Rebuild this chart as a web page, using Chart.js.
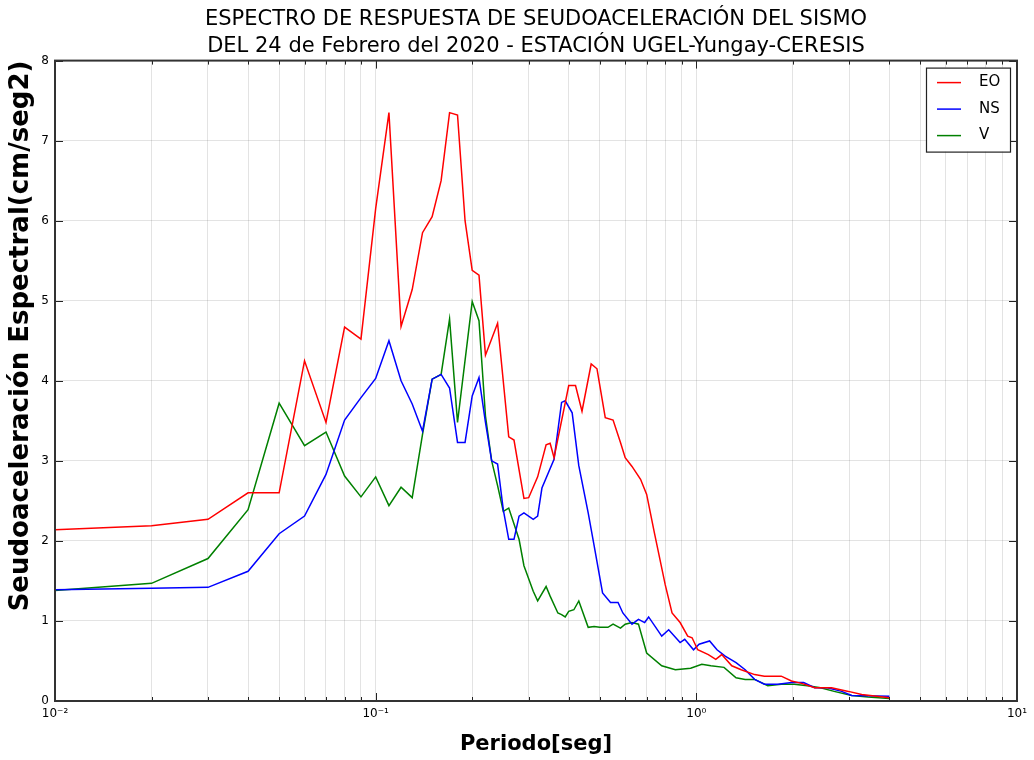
<!DOCTYPE html>
<html>
<head>
<meta charset="utf-8">
<script src="https://cdn.jsdelivr.net/npm/chart.js@4.4.1/dist/chart.umd.min.js"></script>
<style>
  html, body { margin: 0; padding: 0; background: #fff; }
</style>
</head>
<body>
<canvas id="spectrumChart" width="1034" height="760"></canvas>
<script>
// Periodo [seg] / Seudoaceleración [cm/seg2]
const eoPeriod = [0.01, 0.02, 0.03, 0.04, 0.05, 0.06, 0.07, 0.08, 0.09, 0.10, 0.11, 0.12, 0.13, 0.14, 0.15, 0.16, 0.17, 0.18, 0.19, 0.20,
  0.21, 0.22, 0.24, 0.26, 0.27, 0.29, 0.30, 0.32, 0.34, 0.35, 0.36, 0.40, 0.42, 0.44, 0.47, 0.49, 0.52, 0.55, 0.58, 0.60,
  0.63, 0.67, 0.70, 0.74, 0.80, 0.84, 0.89, 0.94, 0.97, 1.01, 1.09, 1.15, 1.20, 1.29, 1.38, 1.52, 1.63, 1.84, 1.98, 2.13,
  2.34, 2.64, 2.98, 3.28, 4.0];
const eoAccel = [2.14, 2.19, 2.27, 2.60, 2.60, 4.25, 3.48, 4.67, 4.52, 6.15, 7.35, 4.68, 5.14, 5.85, 6.05, 6.50, 7.35, 7.32, 6.00, 5.38,
  5.32, 4.32, 4.72, 3.30, 3.26, 2.53, 2.54, 2.80, 3.20, 3.22, 3.04, 3.94, 3.94, 3.62, 4.21, 4.15, 3.54, 3.51, 3.23, 3.04,
  2.93, 2.77, 2.58, 2.10, 1.45, 1.10, 0.98, 0.81, 0.79, 0.64, 0.58, 0.52, 0.58, 0.44, 0.39, 0.33, 0.31, 0.31, 0.25, 0.22,
  0.165, 0.165, 0.12, 0.08, 0.04];

const nsPeriod = [0.01, 0.02, 0.03, 0.04, 0.05, 0.06, 0.07, 0.08, 0.09, 0.10, 0.11, 0.12, 0.13, 0.14, 0.15, 0.16, 0.17, 0.18, 0.19, 0.20,
  0.21, 0.22, 0.23, 0.24, 0.25, 0.26, 0.27, 0.28, 0.29, 0.31, 0.32, 0.33, 0.36, 0.38, 0.39, 0.41, 0.43, 0.46, 0.48, 0.51,
  0.54, 0.57, 0.59, 0.63, 0.66, 0.69, 0.71, 0.78, 0.82, 0.89, 0.92, 0.98, 1.02, 1.10, 1.16, 1.23, 1.33, 1.42, 1.52, 1.63,
  1.80, 1.98, 2.16, 2.34, 2.56, 2.84, 3.05, 4.0];
const nsAccel = [1.39, 1.41, 1.42, 1.62, 2.09, 2.31, 2.83, 3.51, 3.79, 4.03, 4.50, 4.00, 3.71, 3.37, 4.02, 4.08, 3.91, 3.23, 3.23, 3.81,
  4.04, 3.48, 3.00, 2.96, 2.39, 2.02, 2.02, 2.31, 2.35, 2.27, 2.31, 2.66, 3.02, 3.73, 3.75, 3.60, 2.94, 2.35, 1.94, 1.35,
  1.23, 1.23, 1.10, 0.96, 1.02, 0.98, 1.05, 0.81, 0.89, 0.73, 0.77, 0.64, 0.71, 0.75, 0.64, 0.56, 0.48, 0.39, 0.27, 0.21,
  0.21, 0.23, 0.23, 0.165, 0.165, 0.12, 0.07, 0.06];

const vPeriod = [0.01, 0.02, 0.03, 0.04, 0.05, 0.06, 0.07, 0.08, 0.09, 0.10, 0.11, 0.12, 0.13, 0.14, 0.15, 0.16, 0.17, 0.18, 0.20, 0.21,
  0.22, 0.23, 0.24, 0.25, 0.26, 0.28, 0.29, 0.31, 0.32, 0.34, 0.35, 0.37, 0.38, 0.39, 0.40, 0.415, 0.43, 0.46, 0.48, 0.50,
  0.53, 0.55, 0.58, 0.60, 0.63, 0.66, 0.70, 0.78, 0.86, 0.96, 1.04, 1.11, 1.22, 1.33, 1.42, 1.52, 1.67, 1.84, 2.02, 2.22,
  2.44, 2.69, 3.05, 3.43, 4.0];
const vAccel = [1.38, 1.47, 1.78, 2.39, 3.72, 3.19, 3.36, 2.81, 2.55, 2.80, 2.44, 2.67, 2.54, 3.33, 4.02, 4.08, 4.77, 3.48, 4.99, 4.75,
  3.56, 3.00, 2.69, 2.37, 2.41, 2.02, 1.69, 1.37, 1.25, 1.43, 1.31, 1.10, 1.08, 1.05, 1.12, 1.14, 1.25, 0.92, 0.93, 0.92,
  0.92, 0.96, 0.91, 0.96, 0.98, 0.96, 0.60, 0.44, 0.39, 0.41, 0.46, 0.44, 0.42, 0.29, 0.27, 0.27, 0.19, 0.21, 0.21, 0.19,
  0.165, 0.12, 0.07, 0.05, 0.03];

const seriesLabels = ['EO', 'NS', 'V'];
const seriesColors = ['#ff0000', '#0000ff', '#008000'];

const xDecades = [0.01, 0.1, 1, 10];
const xDecadeLabels = ['10\u207B\u00B2', '10\u207B\u00B9', '10\u2070', '10\u00B9'];

const toPoints = (xs, ys) => xs.map((x, i) => ({ x: x, y: ys[i] }));

const isDecade = v => xDecades.some(d => Math.abs(v / d - 1) < 1e-6);

// box, inward tick marks and the legend inside the plot (matplotlib look)
const framePlugin = {
    id: 'frame',
    afterLayout(chart) {
        // centre the title over the plot area, not the whole canvas
        if (chart.titleBlock) {
            chart.titleBlock.left = chart.chartArea.left;
            chart.titleBlock.right = chart.chartArea.right;
        }
    },
    afterDraw(chart) {
        const ctx = chart.ctx;
        const a = chart.chartArea;
        const xs = chart.scales.x;
        const ys = chart.scales.y;
        ctx.save();
        ctx.strokeStyle = '#222';
        ctx.lineWidth = 1;
        ctx.beginPath();
        xs.ticks.forEach(t => {
            const px = Math.round(xs.getPixelForValue(t.value)) + 0.5;
            const len = isDecade(t.value) ? 8 : 4;
            ctx.moveTo(px, a.bottom); ctx.lineTo(px, a.bottom - len);
            ctx.moveTo(px, a.top); ctx.lineTo(px, a.top + len);
        });
        ys.ticks.forEach(t => {
            const py = Math.round(ys.getPixelForValue(t.value)) + 0.5;
            ctx.moveTo(a.left, py); ctx.lineTo(a.left + 8, py);
            ctx.moveTo(a.right, py); ctx.lineTo(a.right - 8, py);
        });
        ctx.stroke();

        ctx.strokeStyle = '#333';
        ctx.lineWidth = 2;
        ctx.strokeRect(a.left, a.top, a.right - a.left, a.bottom - a.top);

        // legend box
        const bx = a.right - 91, by = a.top + 7, bw = 84, bh = 84;
        ctx.fillStyle = '#fff';
        ctx.fillRect(bx, by, bw, bh);
        ctx.strokeStyle = '#222';
        ctx.lineWidth = 1.2;
        ctx.strokeRect(bx + 0.5, by + 0.5, bw, bh);
        ctx.font = '15px "DejaVu Sans"';
        ctx.textBaseline = 'middle';
        chart.data.datasets.forEach((ds, i) => {
            const ry = by + 15 + i * 26.5;
            ctx.strokeStyle = ds.borderColor;
            ctx.lineWidth = 1.5;
            ctx.beginPath();
            ctx.moveTo(bx + 11, ry); ctx.lineTo(bx + 35, ry);
            ctx.stroke();
            ctx.fillStyle = '#000';
            ctx.fillText(ds.label, bx + 53, ry);
        });
        ctx.restore();
    }
};

const ctx = document.getElementById('spectrumChart').getContext('2d');

new Chart(ctx, {
    type: 'line',
    data: {
        datasets: [
            { label: seriesLabels[0], data: toPoints(eoPeriod, eoAccel), borderColor: seriesColors[0] },
            { label: seriesLabels[1], data: toPoints(nsPeriod, nsAccel), borderColor: seriesColors[1] },
            { label: seriesLabels[2], data: toPoints(vPeriod, vAccel), borderColor: seriesColors[2] }
        ]
    },
    options: {
        responsive: false,
        animation: false,
        devicePixelRatio: 1,
        layout: { padding: { left: 0, right: 17, top: 0, bottom: 0 } },
        elements: {
            line: { borderWidth: 1.5, tension: 0, fill: false },
            point: { radius: 0 }
        },
        plugins: {
            legend: { display: false },
            tooltip: { enabled: false },
            title: {
                display: true,
                text: ['ESPECTRO DE RESPUESTA DE SEUDOACELERACIÓN DEL SISMO',
                       'DEL 24 de Febrero del 2020 - ESTACIÓN UGEL-Yungay-CERESIS'],
                color: '#000',
                font: { family: '"DejaVu Sans"', size: 21, weight: 'normal', lineHeight: 1.3 },
                padding: { top: 6, bottom: 0 }
            }
        },
        scales: {
            x: {
                type: 'logarithmic',
                min: 0.01,
                max: 10,
                afterBuildTicks: scale => {
                    const ticks = [];
                    xDecades.forEach(d => {
                        for (let m = 1; m <= 9; m++) {
                            if (d * m <= 10 + 1e-9) ticks.push({ value: d * m });
                        }
                    });
                    scale.ticks = ticks;
                },
                afterFit: scale => { scale.height = 59; },
                grid: { color: 'rgba(0,0,0,0.11)', lineWidth: 1, drawTicks: false },
                border: { display: false },
                ticks: {
                    autoSkip: false,
                    maxRotation: 0,
                    padding: 6,
                    color: '#000',
                    font: { family: '"DejaVu Sans"', size: 12 },
                    callback: value => {
                        const i = xDecades.findIndex(d => Math.abs(value / d - 1) < 1e-6);
                        return i >= 0 ? xDecadeLabels[i] : '';
                    }
                },
                title: {
                    display: true,
                    text: 'Periodo[seg]',
                    color: '#000',
                    font: { family: '"DejaVu Sans"', size: 21, weight: 'bold' },
                    padding: { top: 0, bottom: 3 }
                }
            },
            y: {
                min: 0,
                max: 8,
                afterFit: scale => { scale.width = 55; },
                grid: { color: 'rgba(0,0,0,0.11)', lineWidth: 1, drawTicks: false },
                border: { display: false },
                ticks: {
                    stepSize: 1,
                    padding: 6,
                    color: '#000',
                    font: { family: '"DejaVu Sans"', size: 12 }
                },
                title: {
                    display: true,
                    text: 'Seudoaceleración Espectral(cm/seg2)',
                    align: 'end',
                    color: '#000',
                    font: { family: '"DejaVu Sans"', size: 26, weight: 'bold' },
                    padding: { top: 6, bottom: 0 }
                }
            }
        }
    },
    plugins: [framePlugin]
});
</script>
</body>
</html>
